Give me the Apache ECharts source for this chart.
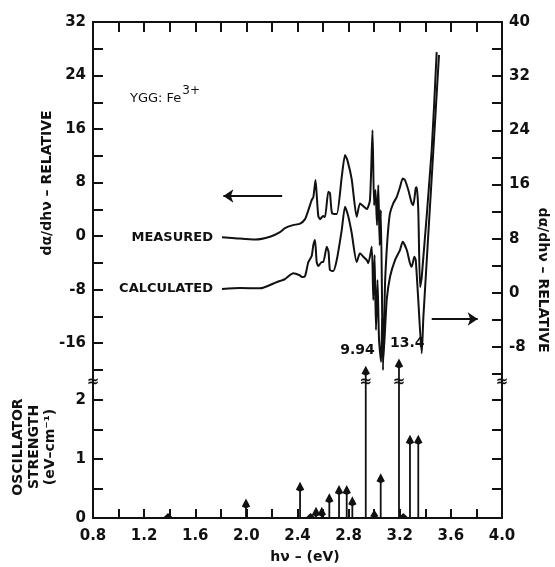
<!DOCTYPE html>
<html>
<head>
<meta charset="utf-8">
<title>YGG:Fe3+ derivative spectrum</title>
<script src="https://cdn.jsdelivr.net/npm/echarts@6/dist/echarts.min.js"></script>
<style>
  html, body { margin: 0; padding: 0; background: #fff; }
  #chart { width: 555px; height: 567px; }
</style>
</head>
<body>
<div id="chart"></div>
<script>
// photon energy hν (eV) and dα/dhν read on the left scale
const measuredX = [1.809, 1.911, 2.068, 2.185, 2.263, 2.302, 2.365, 2.420, 2.459, 2.485, 2.511, 2.524, 2.541, 2.553, 2.563, 2.576, 2.600, 2.615, 2.641, 2.654, 2.670, 2.707, 2.746, 2.772, 2.790, 2.824, 2.863, 2.889, 2.915, 2.942, 2.967, 2.987, 2.999, 3.010, 3.022, 3.032, 3.043, 3.052, 3.069, 3.085, 3.098, 3.111, 3.124, 3.150, 3.176, 3.202, 3.223, 3.241, 3.267, 3.294, 3.306, 3.325, 3.333, 3.345, 3.359, 3.372, 3.450, 3.489];
const measuredY = [-0.15, -0.30, -0.52, -0.10, 0.60, 1.20, 1.64, 1.87, 2.54, 3.89, 5.38, 5.83, 8.37, 5.38, 2.99, 2.54, 2.99, 2.84, 6.62, 6.43, 3.44, 3.29, 8.82, 12.11, 11.36, 8.52, 2.88, 4.89, 4.48, 4.04, 5.38, 15.84, 4.63, 6.88, 1.64, 7.62, -1.35, 3.89, -20.03, -7.03, -2.09, 1.35, 3.44, 4.93, 5.83, 7.32, 8.62, 8.37, 6.88, 4.93, 4.63, 7.17, 7.32, 3.89, -7.62, -6.13, 12.86, 27.50];

// calculated curve, read on the right scale
const calculatedX = [1.809, 1.950, 2.107, 2.240, 2.302, 2.367, 2.420, 2.435, 2.459, 2.485, 2.511, 2.524, 2.537, 2.550, 2.563, 2.590, 2.602, 2.629, 2.643, 2.654, 2.680, 2.707, 2.746, 2.772, 2.798, 2.824, 2.863, 2.889, 2.915, 2.942, 2.954, 2.981, 2.993, 3.003, 3.014, 3.026, 3.038, 3.054, 3.063, 3.072, 3.098, 3.124, 3.163, 3.202, 3.223, 3.255, 3.280, 3.294, 3.314, 3.325, 3.345, 3.372, 3.385, 3.463, 3.507];
const calculatedY = [0.56, 0.71, 0.66, 1.60, 2.04, 2.88, 2.56, 2.33, 2.48, 4.55, 5.43, 7.06, 7.80, 4.55, 3.96, 4.55, 4.55, 6.81, 6.03, 3.37, 3.22, 4.84, 9.27, 12.72, 11.24, 8.83, 4.55, 5.83, 5.33, 4.84, 4.36, 6.81, -1.06, 5.58, -5.49, 1.89, -6.97, -10.22, -3.72, -9.48, -1.06, 2.38, 4.84, 6.32, 7.55, 6.32, 4.36, 3.85, 5.33, 4.84, -1.06, -8.94, -3.53, 21.09, 35.12];

// oscillator strengths (eV-cm^-1)
const oscX = [1.387, 1.997, 2.420, 2.502, 2.545, 2.590, 2.649, 2.725, 2.785, 2.829, 2.934, 3.001, 3.051, 3.194, 3.228, 3.280, 3.345];
const oscF = [0.03, 0.33, 0.615, 0.03, 0.19, 0.19, 0.42, 0.56, 0.56, 0.37, 9.94, 0.14, 0.76, 13.4, 0.03, 1.41, 1.41];

// arrows telling which scale each curve uses
const leftArrowX = [2.28, 1.82];
const leftArrowY = 6.0;
const rightArrowX = [3.45, 3.81];
const rightArrowY = -3.87;

// axes
const xLabels = [0.8, 1.2, 1.6, 2.0, 2.4, 2.8, 3.2, 3.6, 4.0];
const xTicks = [0.8, 1.0, 1.2, 1.4, 1.6, 1.8, 2.0, 2.2, 2.4, 2.6, 2.8, 3.0, 3.2, 3.4, 3.6, 3.8, 4.0];
const leftLabels = [-16, -8, 0, 8, 16, 24, 32];
const leftTicks = [-20, -16, -12, -8, -4, 0, 4, 8, 12, 16, 20, 24, 28, 32];
const rightLabels = [-8, 0, 8, 16, 24, 32, 40];
const rightTicks = [-12, -8, -4, 0, 4, 8, 12, 16, 20, 24, 28, 32, 36, 40];
const oscLabels = [0, 1, 2];
const oscTicks = [0, 0.5, 1, 1.5, 2];

const INK = "#111";
const BREAK_AT = 2.305; // oscillator-strength value where the scale is broken
const SQUEEZE = 0.036; // compression of values above the break
const FONT = "DejaVu Sans";

const chart = echarts.init(document.getElementById("chart"));

const tickLabel = {
  color: INK,
  fontFamily: FONT,
  fontWeight: "bold",
  fontSize: 15,
};

function valueAxisY(grid, pos, min, max, labels, ticks) {
  return {
    type: "value",
    gridIndex: grid,
    position: pos,
    min: min,
    max: max,
    axisLine: { show: true, onZero: false, lineStyle: { color: INK, width: 2 } },
    axisTick: { show: true, inside: true, length: 10, customValues: ticks, lineStyle: { color: INK, width: 2 } },
    axisLabel: labels
      ? Object.assign({ show: true, margin: 7, customValues: labels }, tickLabel)
      : { show: false },
    splitLine: { show: false },
  };
}

// stems with arrow heads, broken above BREAK_AT
function renderStem(params, api) {
  const x = api.value(0);
  const f = api.value(1);
  const shown = f > BREAK_AT ? BREAK_AT + (f - BREAK_AT) * SQUEEZE : f;
  const base = api.coord([x, 0]);
  let tip = api.coord([x, shown]);
  if (base[1] - tip[1] < 5) tip = [tip[0], base[1] - 5];
  const head = Math.min(10, base[1] - tip[1]);
  const children = [
    {
      type: "line",
      shape: { x1: base[0], y1: base[1], x2: tip[0], y2: tip[1] + head - 2 },
      style: { stroke: INK, lineWidth: 1.8 },
    },
    {
      type: "polygon",
      shape: {
        points: [
          [tip[0], tip[1]],
          [tip[0] - 4.2, tip[1] + head * 0.8],
          [tip[0], tip[1] + head],
          [tip[0] + 4.2, tip[1] + head * 0.8],
        ],
      },
      style: { fill: INK },
    },
  ];
  if (f > BREAK_AT) {
    const b = api.coord([x, BREAK_AT]);
    // broken stems alternate their value label left / right of the stem
    const rank = oscF.slice(0, params.dataIndex).filter((v) => v > BREAK_AT).length;
    const toLeft = rank % 2 === 0;
    children.push({
      type: "text",
      x: b[0],
      y: b[1],
      style: { text: "≈", fill: INK, font: "bold 15px " + FONT, align: "center", verticalAlign: "middle" },
    });
    children.push({
      type: "text",
      x: toLeft ? tip[0] + 9 : tip[0] - 9,
      y: tip[1] - 15,
      style: { text: String(f), fill: INK, font: "bold 14px " + FONT, align: toLeft ? "right" : "left", verticalAlign: "middle" },
    });
  }
  return { type: "group", children: children };
}

// break marks on the two frame edges
function renderSpineBreak(params, api) {
  const p = api.coord([api.value(0), BREAK_AT]);
  return {
    type: "text",
    x: p[0],
    y: p[1],
    style: { text: "≈", fill: INK, font: "bold 15px " + FONT, align: "center", verticalAlign: "middle" },
  };
}

const option = {
  backgroundColor: "#fff",
  animation: false,
  grid: [
    { left: 93, right: 53, top: 22, height: 360 },
    { left: 93, right: 53, top: 382, height: 136 },
  ],
  xAxis: [
    {
      type: "value",
      gridIndex: 0,
      position: "top",
      min: 0.8,
      max: 4.0,
      axisLine: { show: true, onZero: false, lineStyle: { color: INK, width: 2 } },
      axisTick: { show: true, inside: true, length: 10, customValues: xTicks, lineStyle: { color: INK, width: 2 } },
      axisLabel: { show: false },
      splitLine: { show: false },
    },
    {
      type: "value",
      gridIndex: 1,
      position: "bottom",
      min: 0.8,
      max: 4.0,
      axisLine: { show: true, onZero: false, lineStyle: { color: INK, width: 2 } },
      axisTick: { show: true, inside: true, length: 9, customValues: xTicks, lineStyle: { color: INK, width: 2 } },
      axisLabel: Object.assign(
        { show: true, margin: 11, customValues: xLabels, formatter: (v) => v.toFixed(1) },
        tickLabel
      ),
      splitLine: { show: false },
    },
  ],
  yAxis: [
    valueAxisY(0, "left", -21.8, 32, leftLabels, leftTicks),
    valueAxisY(0, "right", -13.17, 40, rightLabels, rightTicks),
    valueAxisY(1, "left", 0, BREAK_AT, oscLabels, oscTicks),
    valueAxisY(1, "right", 0, BREAK_AT, null, oscTicks),
  ],
  graphic: [
    {
      type: "text",
      x: 47,
      y: 183,
      rotation: Math.PI / 2,
      style: { text: "dα/dhν – RELATIVE", fill: INK, font: "bold 14px " + FONT, align: "center", verticalAlign: "middle" },
    },
    {
      type: "text",
      x: 543,
      y: 280,
      rotation: -Math.PI / 2,
      style: { text: "dα/dhν – RELATIVE", fill: INK, font: "bold 14px " + FONT, align: "center", verticalAlign: "middle" },
    },
    {
      type: "text",
      x: 34,
      y: 447,
      rotation: Math.PI / 2,
      style: {
        text: "OSCILLATOR\nSTRENGTH\n(eV–cm⁻¹)",
        fill: INK,
        font: "bold 14px " + FONT,
        lineHeight: 16,
        align: "center",
        verticalAlign: "middle",
      },
    },
    {
      type: "text",
      x: 305,
      y: 557,
      style: { text: "hν – (eV)", fill: INK, font: "bold 14px " + FONT, align: "center", verticalAlign: "middle" },
    },
    {
      type: "text",
      x: 130,
      y: 95,
      style: {
        text: "{n|YGG: Fe}{s|3+}",
        fill: INK,
        verticalAlign: "middle",
        rich: {
          n: { fontFamily: FONT, fontSize: 13, fill: INK, verticalAlign: "bottom" },
          s: { fontFamily: FONT, fontSize: 12, fill: INK, verticalAlign: "bottom", padding: [0, 0, 8, 1] },
        },
      },
    },
  ],
  series: [
    {
      name: "MEASURED",
      type: "line",
      xAxisIndex: 0,
      yAxisIndex: 0,
      data: measuredX.map((x, i) => [x, measuredY[i]]),
      symbol: "none",
      smooth: 0.2,
      lineStyle: { color: INK, width: 2 },
      silent: true,
      markPoint: {
        symbol: "circle",
        symbolSize: 0,
        silent: true,
        data: [
          {
            coord: [measuredX[0], measuredY[0]],
            label: { show: true, position: "left", distance: 9, formatter: "MEASURED", color: INK, fontFamily: FONT, fontWeight: "bold", fontSize: 13 },
          },
        ],
      },
      markLine: {
        silent: true,
        symbol: ["none", "arrow"],
        symbolSize: 10,
        label: { show: false },
        lineStyle: { color: INK, width: 2, type: "solid" },
        data: [[{ coord: [leftArrowX[0], leftArrowY] }, { coord: [leftArrowX[1], leftArrowY] }]],
      },
    },
    {
      name: "CALCULATED",
      type: "line",
      xAxisIndex: 0,
      yAxisIndex: 1,
      data: calculatedX.map((x, i) => [x, calculatedY[i]]),
      symbol: "none",
      smooth: 0.2,
      lineStyle: { color: INK, width: 2 },
      silent: true,
      markPoint: {
        symbol: "circle",
        symbolSize: 0,
        silent: true,
        data: [
          {
            coord: [calculatedX[0], calculatedY[0]],
            label: { show: true, position: "left", distance: 9, formatter: "CALCULATED", color: INK, fontFamily: FONT, fontWeight: "bold", fontSize: 13 },
          },
        ],
      },
      markLine: {
        silent: true,
        symbol: ["none", "arrow"],
        symbolSize: 10,
        label: { show: false },
        lineStyle: { color: INK, width: 2, type: "solid" },
        data: [[{ coord: [rightArrowX[0], rightArrowY] }, { coord: [rightArrowX[1], rightArrowY] }]],
      },
    },
    {
      name: "oscillator strength",
      type: "custom",
      xAxisIndex: 1,
      yAxisIndex: 2,
      data: oscX.map((x, i) => [x, oscF[i]]),
      encode: { x: 0, y: 1 },
      renderItem: renderStem,
      clip: false,
      silent: true,
      z: 5,
    },
    {
      name: "axis break",
      type: "custom",
      xAxisIndex: 1,
      yAxisIndex: 2,
      data: [[0.8], [4.0]],
      renderItem: renderSpineBreak,
      clip: false,
      silent: true,
      z: 5,
    },
  ],
};

chart.setOption(option);
</script>
</body>
</html>
